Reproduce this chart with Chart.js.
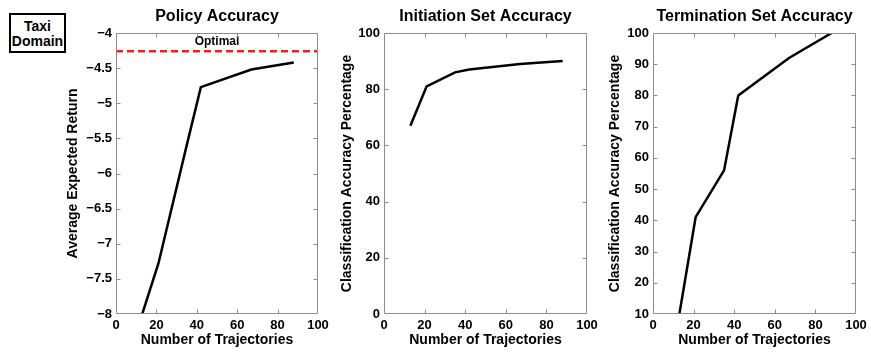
<!DOCTYPE html>
<html>
<head>
<meta charset="utf-8">
<script src="https://cdn.jsdelivr.net/npm/chart.js@4/dist/chart.umd.min.js"></script>
<style>
  html, body { margin: 0; padding: 0; background: #fff; }
  #wrap { position: relative; width: 871px; height: 352px; overflow: hidden; background: #fff; }
  canvas { position: absolute; top: 0; }
  #tag {
    position: absolute; left: 9px; top: 13px; width: 57px; height: 40px;
    box-sizing: border-box; border: 2px solid #000; background: #fff;
    font: bold 14px 'Liberation Sans', Arial, Helvetica, sans-serif;
    line-height: 15px; text-align: center; padding-top: 4px; color: #000;
  }
</style>
</head>
<body>
<div id="wrap">
  <canvas id="c1" width="340" height="352" style="left:0px"></canvas>
  <canvas id="c2" width="285" height="352" style="left:325px"></canvas>
  <canvas id="c3" width="276" height="352" style="left:595px"></canvas>
  <div id="tag">Taxi<br>Domain</div>
</div>
<script>
// ---- data ----
const trajectories   = [13, 21, 35, 42, 67, 88];
const policyReturn   = [-8.0, -7.28, -5.6, -4.77, -4.52, -4.42];
const initiationAcc  = [67, 81, 86, 87, 89, 90];
const terminationAcc = [10, 41, 56, 80, 92, 100];
const optimalReturn  = -4.26;
const optimalLabel   = 'Optimal';
const panelTitles    = ['Policy Accuracy', 'Initiation Set Accuracy', 'Termination Set Accuracy'];
const xAxisTitle     = 'Number of Trajectories';
const yAxisTitles    = ['Average Expected Return', 'Classification Accuracy Percentage', 'Classification Accuracy Percentage'];

const FAMILY = "'Liberation Sans', Arial, Helvetica, sans-serif";
const FRAME = '#8c8c8c';

function pts(xs, ys) { return xs.map((x, i) => ({x: x, y: ys[i]})); }

const frameTicks = {
  id: 'frameTicks',
  afterDraw(chart) {
    const {ctx, chartArea: a, scales: {x, y}} = chart;
    ctx.save();
    ctx.strokeStyle = FRAME;
    ctx.lineWidth = 1;
    const L = Math.round(a.left) + 0.5, R = Math.round(a.right) - 0.5;
    const T = Math.round(a.top) + 0.5, B = Math.round(a.bottom) - 0.5;
    ctx.beginPath();
    ctx.rect(L, T, R - L, B - T);
    const len = 4;
    x.ticks.forEach(t => {
      if (t.value === x.min || t.value === x.max) return;
      const px = Math.round(x.getPixelForValue(t.value)) + 0.5;
      ctx.moveTo(px, B); ctx.lineTo(px, B - len);
      ctx.moveTo(px, T); ctx.lineTo(px, T + len);
    });
    y.ticks.forEach(t => {
      if (t.value === y.min || t.value === y.max) return;
      const py = Math.round(y.getPixelForValue(t.value)) + 0.5;
      ctx.moveTo(L, py); ctx.lineTo(L + len, py);
      ctx.moveTo(R, py); ctx.lineTo(R - len, py);
    });
    ctx.stroke();
    ctx.restore();
  }
};

const optimalText = {
  id: 'optimalText',
  afterDatasetsDraw(chart) {
    const {ctx, scales: {x, y}} = chart;
    ctx.save();
    ctx.fillStyle = '#000';
    ctx.font = 'bold 12px ' + FAMILY;
    ctx.textAlign = 'center';
    ctx.textBaseline = 'middle';
    ctx.fillText(optimalLabel, x.getPixelForValue(50), y.getPixelForValue(optimalReturn) - 9.5);
    ctx.restore();
  }
};

function fmt(v) {
  const r = Math.round(v * 10) / 10;
  return (r < 0 ? '\u2212' : '') + Math.abs(r);
}

function makeChart(id, o) {
  return new Chart(document.getElementById(id), {
    type: 'line',
    data: { datasets: o.datasets },
    options: {
      responsive: false,
      animation: false,
      devicePixelRatio: 1,
      layout: { padding: { left: 0, right: o.padRight, top: 0, bottom: 0 } },
      plugins: {
        legend: { display: false },
        tooltip: { enabled: false },
        title: {
          display: true, text: o.title, fullSize: false, color: '#000',
          font: { family: FAMILY, size: 16, weight: 'bold', lineHeight: 1.2 },
          padding: { top: 7.4, bottom: 6.4 }
        }
      },
      scales: {
        x: {
          type: 'linear', min: 0, max: 100,
          ticks: { stepSize: 20, color: '#000', padding: 4, maxRotation: 0, autoSkip: false,
                   font: { family: FAMILY, size: 13, weight: 'bold' } },
          grid: { display: false, drawTicks: false },
          border: { display: false },
          title: { display: true, text: xAxisTitle, color: '#000',
                   font: { family: FAMILY, size: 14, weight: 'bold', lineHeight: 1.2 },
                   padding: { top: 0, bottom: 3 } },
          afterFit(s) { s.height = 38; s.paddingLeft = 0; s.paddingRight = 0; }
        },
        y: {
          type: 'linear', min: o.yMin, max: o.yMax,
          ticks: { stepSize: o.yStep, color: '#000', padding: 4, autoSkip: false, callback: fmt,
                   font: { family: FAMILY, size: 13, weight: 'bold' } },
          grid: { display: false, drawTicks: false },
          border: { display: false },
          title: { display: true, text: o.yTitle, color: '#000',
                   font: { family: FAMILY, size: 14, weight: 'bold', lineHeight: 1.2 },
                   padding: { top: o.yTitlePad, bottom: 0 } },
          afterFit(s) { s.width = o.yWidth; s.paddingTop = 0; s.paddingBottom = 0; }
        }
      }
    },
    plugins: o.plugins
  });
}

function mainLine(ys) {
  return { data: pts(trajectories, ys), borderColor: '#000', borderWidth: 2.5,
           pointRadius: 0, tension: 0, fill: false };
}

makeChart('c1', {
  title: panelTitles[0], yTitle: yAxisTitles[0],
  yMin: -8, yMax: -4, yStep: 0.5, yWidth: 116, yTitlePad: 64.6, padRight: 22,
  datasets: [
    mainLine(policyReturn),
    { data: [{x: 0, y: optimalReturn}, {x: 100, y: optimalReturn}], borderColor: '#ff1a1a',
      borderWidth: 2.3, borderDash: [7, 4], pointRadius: 0, fill: false }
  ],
  plugins: [frameTicks, optimalText]
});

makeChart('c2', {
  title: panelTitles[1], yTitle: yAxisTitles[1],
  yMin: 0, yMax: 100, yStep: 20, yWidth: 59, yTitlePad: 13.3, padRight: 23,
  datasets: [ mainLine(initiationAcc) ],
  plugins: [frameTicks]
});

makeChart('c3', {
  title: panelTitles[2], yTitle: yAxisTitles[2],
  yMin: 10, yMax: 100, yStep: 10, yWidth: 58, yTitlePad: 11.9, padRight: 15,
  datasets: [ mainLine(terminationAcc) ],
  plugins: [frameTicks]
});
</script>
</body>
</html>
